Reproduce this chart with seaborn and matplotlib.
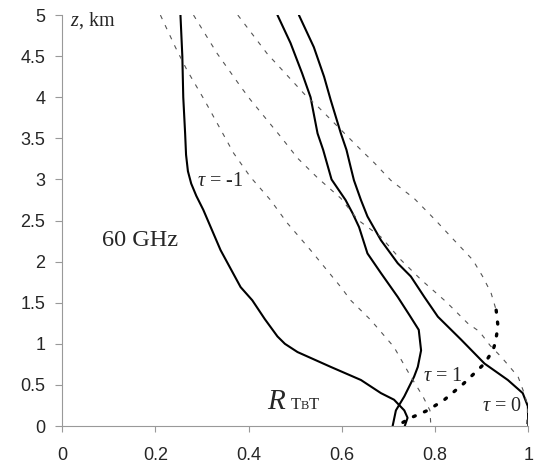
import numpy as np
import pandas as pd
import matplotlib
matplotlib.use('Agg')
import matplotlib.pyplot as plt
import seaborn as sns

# curves: height z (km) and R_TBT value
z_solid_m1 = [5.0, 4.5, 4.0, 3.56, 3.3, 3.1, 2.95, 2.8, 2.63, 2.14, 1.69, 1.53, 1.30, 1.09, 1.0, 0.90, 0.72, 0.56, 0.40, 0.32, 0.19, 0.10, 0.0]
r_solid_m1 = [0.254, 0.258, 0.260, 0.264, 0.266, 0.270, 0.277, 0.288, 0.303, 0.340, 0.383, 0.408, 0.435, 0.462, 0.478, 0.505, 0.576, 0.641, 0.684, 0.712, 0.734, 0.741, 0.735]

z_solid_p1 = [5.0, 4.66, 4.29, 4.0, 3.56, 3.36, 3.0, 2.75, 2.59, 2.42, 2.10, 1.86, 1.57, 1.35, 1.17, 0.92, 0.72, 0.60, 0.36, 0.19, 0.0]
r_solid_p1 = [0.462, 0.490, 0.515, 0.533, 0.548, 0.560, 0.578, 0.608, 0.623, 0.637, 0.655, 0.684, 0.720, 0.745, 0.765, 0.770, 0.763, 0.755, 0.734, 0.716, 0.709]

z_solid_0 = [5.0, 4.61, 4.25, 3.97, 3.56, 3.36, 3.15, 2.99, 2.75, 2.55, 2.26, 1.98, 1.82, 1.57, 1.33, 1.05, 0.76, 0.56, 0.40, 0.24, 0.0]
r_solid_0 = [0.508, 0.540, 0.562, 0.576, 0.598, 0.610, 0.619, 0.626, 0.641, 0.655, 0.684, 0.720, 0.748, 0.777, 0.806, 0.856, 0.906, 0.956, 0.988, 0.999, 1.0]

z_dash_a = [5.0, 4.61, 4.33, 3.97, 3.32, 3.03, 2.75, 2.47, 2.14, 1.69, 1.53, 1.29, 0.96, 0.60, 0.36, 0.19, 0.0]
r_dash_a = [0.211, 0.243, 0.268, 0.305, 0.368, 0.404, 0.447, 0.483, 0.533, 0.598, 0.619, 0.662, 0.712, 0.748, 0.774, 0.789, 0.791]

z_dash_b = [5.0, 4.53, 4.13, 3.97, 3.52, 3.26, 3.02, 2.77, 2.51, 2.30, 2.02, 1.78, 1.51, 1.25, 1.15, 0.98, 0.84, 0.60, 0.40, 0.24, 0.0]
r_dash_b = [0.282, 0.333, 0.383, 0.404, 0.469, 0.505, 0.548, 0.598, 0.634, 0.684, 0.727, 0.770, 0.824, 0.870, 0.895, 0.918, 0.942, 0.978, 0.991, 0.999, 0.996]

z_dash_c = [5.0, 4.53, 4.0, 3.89, 3.36, 3.2, 2.99, 2.77, 2.51, 2.26, 2.02, 1.82, 1.62, 1.41, 1.21, 1.01, 0.92, 0.76, 0.64, 0.51, 0.32, 0.19, 0.10, 0.05, 0.0]
r_dash_c = [0.377, 0.440, 0.526, 0.548, 0.641, 0.670, 0.705, 0.755, 0.800, 0.841, 0.881, 0.902, 0.920, 0.931, 0.935, 0.929, 0.924, 0.906, 0.884, 0.860, 0.820, 0.784, 0.748, 0.733, 0.716]

x_ticks = [0, 0.2, 0.4, 0.6, 0.8, 1.0]
y_ticks = [0, 0.5, 1, 1.5, 2, 2.5, 3, 3.5, 4, 4.5, 5]

sns.set_style('ticks')
plt.rcParams['font.family'] = ['Liberation Sans', 'DejaVu Sans']
plt.rcParams['mathtext.fontset'] = 'custom'
plt.rcParams['mathtext.rm'] = 'Liberation Serif'
plt.rcParams['mathtext.it'] = 'Liberation Serif:italic'

fig = plt.figure(figsize=(5.36, 4.71), dpi=100)
ax = fig.add_axes([0.1157, 0.0955, 0.87, 0.8725])

solid_kw = dict(color='black', linewidth=1.5, sort=False, estimator=None)
for z, r in [(z_solid_m1, r_solid_m1), (z_solid_p1, r_solid_p1), (z_solid_0, r_solid_0)]:
    sns.lineplot(x=r, y=z, ax=ax, **solid_kw)

dash_kw = dict(color='#555555', linewidth=0.8, sort=False, estimator=None)
for z, r in [(z_dash_a, r_dash_a), (z_dash_b, r_dash_b)]:
    l = sns.lineplot(x=r, y=z, ax=ax, **dash_kw).lines[-1]
    l.set_dashes((4, 6))

# third dashed curve turns bold dotted near the ground
df_c = pd.DataFrame({'z': z_dash_c, 'r': r_dash_c})
upper = df_c[df_c['z'] >= 1.41]
lower = df_c[df_c['z'] <= 1.41]
l = sns.lineplot(data=upper, x='r', y='z', ax=ax, **dash_kw).lines[-1]
l.set_dashes((4, 6))
l = sns.lineplot(data=lower, x='r', y='z', ax=ax, color='black', linewidth=2.4,
                 sort=False, estimator=None).lines[-1]
l.set_dashes((0.6, 3))
l.set_dash_capstyle('round')

ax.set_xlim(0, 1.0)
ax.set_ylim(0, 5)
ax.set_xticks(x_ticks)
ax.set_yticks(y_ticks)
ax.set_xticklabels(['%g' % t for t in x_ticks])
ax.set_yticklabels(['%g' % t for t in y_ticks])
ax.set_xlabel('')
ax.set_ylabel('')
ax.tick_params(axis='x', labelsize=13, length=4, width=0.8, color='#999999', pad=11)
ax.tick_params(axis='y', labelsize=13, length=5, width=0.8, color='#999999', pad=7)
sns.despine(ax=ax)
for s in ['left', 'bottom']:
    ax.spines[s].set_color('#999999')
    ax.spines[s].set_linewidth(0.8)

serif = ['Liberation Serif', 'DejaVu Serif']
ax.text(0.017, 4.93, r'$z$, km', family=serif, fontsize=14.5, va='center', ha='left')
ax.text(0.168, 2.26, '60 GHz', family=serif, fontsize=17.5, va='center', ha='center')
ax.text(0.34, 2.98, r'$\tau$ = -1', family=serif, fontsize=14.5, va='center', ha='center')
ax.text(0.817, 0.60, r'$\tau$ = 1', family=serif, fontsize=14.5, va='center', ha='center')
ax.text(0.944, 0.24, r'$\tau$ = 0', family=serif, fontsize=14.5, va='center', ha='center')

ax.text(0.439, 0.207, r'$R$', family=serif, fontsize=21, va='baseline', ha='left')
ax.annotate('T', xy=(0.439, 0.207), xytext=(17, 0), textcoords='offset points',
            family=serif, fontsize=12, va='baseline', ha='left')
ax.annotate('B', xy=(0.439, 0.207), xytext=(24.5, 0), textcoords='offset points',
            family=serif, fontsize=9, va='baseline', ha='left')
ax.annotate('T', xy=(0.439, 0.207), xytext=(30.5, 0), textcoords='offset points',
            family=serif, fontsize=12, va='baseline', ha='left')

fig.savefig('out.png', dpi=100)
